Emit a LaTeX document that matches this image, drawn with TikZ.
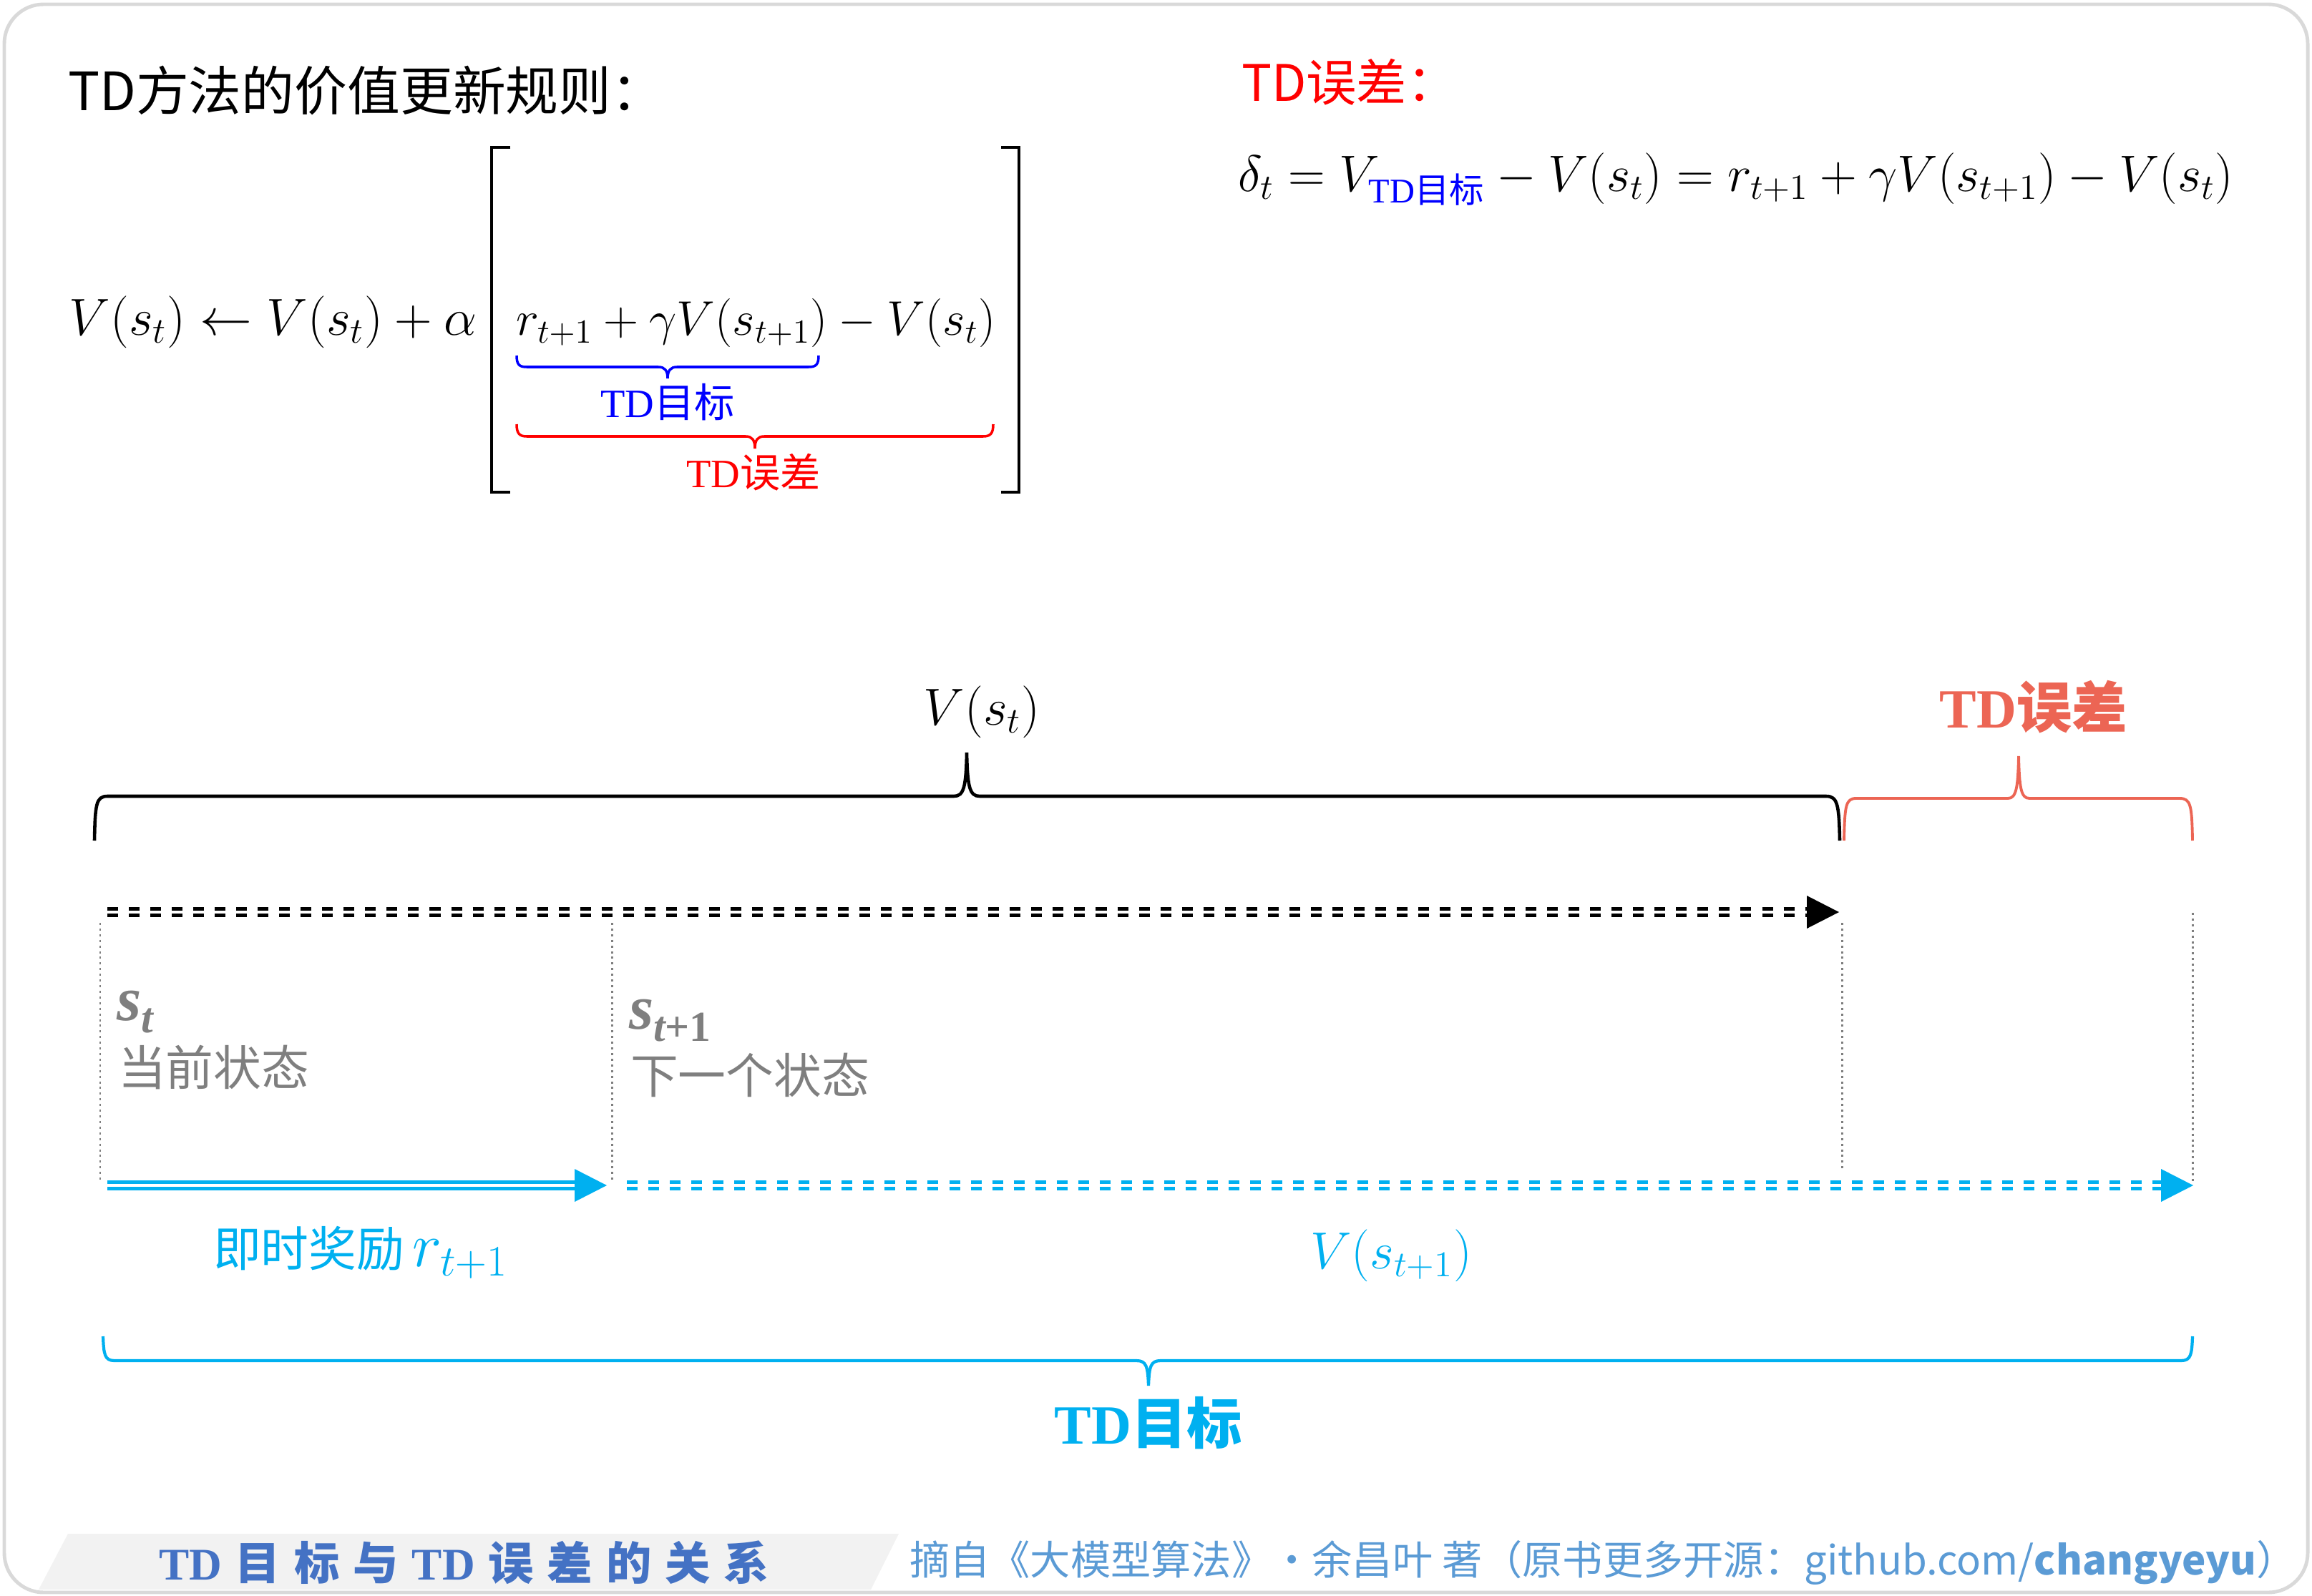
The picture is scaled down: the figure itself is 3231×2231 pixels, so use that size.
\documentclass[tikz,border=0pt]{standalone}
\usepackage{fontspec}
\setmainfont{Liberation Serif}
\newfontfamily\cjk{Noto Sans CJK SC}
\usetikzlibrary{calc}
\definecolor{cyanb}{HTML}{00B0F0}
\definecolor{salmon}{HTML}{EC6554}
\definecolor{grayt}{HTML}{7F7F7F}
\definecolor{footA}{HTML}{4472C4}
\definecolor{footB}{HTML}{5B9BD5}
\definecolor{footbg}{HTML}{F2F2F2}
\definecolor{framec}{HTML}{D9D9D9}
\newcommand\fsp{\hspace{0.3em}}
\begin{document}
\begin{tikzpicture}[x=0.01cm,y=-0.01cm,
  every node/.style={inner sep=0pt,outer sep=0pt},
  graydot/.style={draw=grayt,line width=0.85pt,dash pattern=on 0.85pt off 1.4pt},
  dbl/.style={line width=1.28pt},
  dsh/.style={line width=1.28pt,dash pattern=on 4.27pt off 4.27pt},
  brc/.style={line width=1.3pt},
  cjklbl/.style={text height=0.8em,text depth=0.08em},
  fsz/.style={font=\fontsize{#1}{#1}\selectfont}]
\useasboundingbox (0,0) rectangle (3231,2231);
% frame
\draw[framec,line width=1.4pt,rounded corners=0.55cm] (6,6) rectangle (3225,2226);

% ---------- top-left: update rule ----------
\node[anchor=west,fsz=21] (title) at (95,127) {\cjk TD方法的价值更新规则：};
\node[anchor=base west,fsz=22] (fleft) at (97,469) {$V(s_t)\leftarrow V(s_t)+\alpha$};
\node[anchor=base west,fsz=22] (fin) at (721,469) {\resizebox{6.70cm}{!}{$r_{t+1}+\gamma V(s_{t+1})-V(s_t)$}};
\coordinate (brL1) at (713,206); \coordinate (brL2) at (687,206);
\coordinate (brL3) at (687,688); \coordinate (brL4) at (713,688);
\coordinate (brR1) at (1399,206); \coordinate (brR2) at (1424,206);
\coordinate (brR3) at (1424,688); \coordinate (brR4) at (1399,688);
\draw[line width=1.4pt] (brL1) -- (brL2) -- (brL3) -- (brL4);
\draw[line width=1.4pt] (brR1) -- (brR2) -- (brR3) -- (brR4);
% blue brace
\draw[blue,line width=1pt] (722,497) .. controls (722,510) and (726,513) .. (736,513) -- (920,513)
  .. controls (929,513) and (933,518) .. (933,529) .. controls (933,518) and (937,513) .. (946,513)
  -- (1130,513) .. controls (1140,513) and (1144,510) .. (1144,497);
\node[text=blue,fsz=16] (tdt1) at (933,562) {TD{\cjk 目标}};
% red brace
\draw[red,line width=1pt] (722,593) .. controls (722,606) and (726,610) .. (736,610) -- (1042,610)
  .. controls (1051,610) and (1055,615) .. (1055,627) .. controls (1055,615) and (1059,610) .. (1068,610)
  -- (1374,610) .. controls (1384,610) and (1388,606) .. (1388,593);
\node[text=red,fsz=16] (tde1) at (1053,660) {TD{\cjk 误差}};

% ---------- top-right: TD error ----------
\node[anchor=west,text=red,fsz=20] (errt) at (1735,115) {\cjk TD误差：};
\node[anchor=base west,fsz=22] (ferr) at (1730,268)
  {\resizebox{13.9cm}{!}{$\delta_t = V_{\mbox{\fontsize{14}{14}\selectfont\color{blue}TD{\cjk 目标}}} - V(s_t) = r_{t+1}+\gamma V(s_{t+1}) - V(s_t)$}};

% ---------- middle diagram ----------
\node[fsz=22] (vst) at (1372,995) {$V(s_t)$};
\node[text=salmon,fsz=22] (tderr) at (2842,988) {\bfseries TD{\cjk 误差}};
% black brace
\draw[brc] (132,1175) .. controls (133,1125) and (134,1113) .. (150,1113) -- (1333,1113)
  .. controls (1347,1113) and (1350,1100) .. (1351,1052) .. controls (1352,1100) and (1355,1113) .. (1369,1113)
  -- (2552,1113) .. controls (2568,1113) and (2570,1125) .. (2571,1175);
% salmon brace
\draw[salmon,line width=1.1pt] (2577,1175) .. controls (2578,1127) and (2579,1116) .. (2594,1116) -- (2806,1116)
  .. controls (2818,1116) and (2820,1100) .. (2821,1057) .. controls (2822,1100) and (2824,1116) .. (2836,1116)
  -- (3046,1116) .. controls (3062,1116) and (3063,1127) .. (3064,1175);

% vertical dotted separators
\coordinate (v1a) at (140,1290); \coordinate (v1b) at (140,1652);
\coordinate (v2a) at (855,1290); \coordinate (v2b) at (855,1652);
\coordinate (v3a) at (2574,1290); \coordinate (v3b) at (2574,1634);
\coordinate (v4a) at (3064,1276); \coordinate (v4b) at (3064,1652);
\draw[graydot] (v1a) -- (v1b);
\draw[graydot] (v2a) -- (v2b);
\draw[graydot] (v3a) -- (v3b);
\draw[graydot] (v4a) -- (v4b);

% black double dashed arrow
\coordinate (kA) at (150,1275); \coordinate (kB) at (2528,1275); \coordinate (kT) at (2570,1275);
\draw[dsh] ($(kA)+(0,-4.5)$) -- ($(kB)+(0,-4.5)$);
\draw[dsh] ($(kA)+(0,4.5)$) -- ($(kB)+(0,4.5)$);
\fill (kT) -- ($(kT)+(-45,-23)$) -- ($(kT)+(-45,23)$) -- cycle;

% blue double solid arrow
\coordinate (cA) at (150,1657); \coordinate (cB) at (806,1657); \coordinate (cT) at (848,1657);
\draw[dbl,cyanb] ($(cA)+(0,-4.5)$) -- ($(cB)+(0,-4.5)$);
\draw[dbl,cyanb] ($(cA)+(0,4.5)$) -- ($(cB)+(0,4.5)$);
\fill[cyanb] (cT) -- ($(cT)+(-45,-23)$) -- ($(cT)+(-45,23)$) -- cycle;

% blue double dashed arrow
\coordinate (dA) at (876,1657); \coordinate (dB) at (3023,1657); \coordinate (dT) at (3065,1657);
\draw[dsh,cyanb] ($(dA)+(0,-4.5)$) -- ($(dB)+(0,-4.5)$);
\draw[dsh,cyanb] ($(dA)+(0,4.5)$) -- ($(dB)+(0,4.5)$);
\fill[cyanb] (dT) -- ($(dT)+(-45,-23)$) -- ($(dT)+(-45,23)$) -- cycle;

% state labels
\node[anchor=base west,text=grayt,fsz=25] (st) at (163,1426)
  {\bfseries\itshape s\raisebox{-0.2em}{\fontsize{17}{17}\selectfont t}};
\node[anchor=base west,text=grayt,fsz=19,cjklbl] (stl) at (165,1517) {\cjk 当前状态};
\node[anchor=base west,text=grayt,fsz=25] (st1) at (879,1438)
  {\bfseries\itshape s\raisebox{-0.2em}{\fontsize{17}{17}\selectfont t\upshape+1}};
\node[anchor=base west,text=grayt,fsz=19,cjklbl] (st1l) at (881,1528) {\cjk 下一个状态};

% reward and next value
\node[anchor=base west,text=cyanb,fsz=19] (rew) at (298,1770) {{\cjk 即时奖励}\,{\fontsize{26}{26}\selectfont$r_{t+1}$}};
\node[text=cyanb,fsz=22.5] (vst1) at (1944,1755) {$V(s_{t+1})$};

% cyan brace
\draw[cyanb,line width=1.2pt] (144,1868) .. controls (145,1893) and (146,1902) .. (160,1902) -- (1588,1902)
  .. controls (1602,1902) and (1604,1910) .. (1605,1937) .. controls (1606,1910) and (1608,1902) .. (1622,1902)
  -- (3048,1902) .. controls (3062,1902) and (3063,1893) .. (3064,1868);
\node[text=cyanb,fsz=22] (tdtar) at (1605,1989) {\bfseries TD{\cjk 目标}};

% ---------- footer ----------
\fill[footbg] (95,2144) -- (1256,2144) -- (1217,2222) -- (54,2222) -- cycle;
\node[anchor=west,text=footA,fsz=18] (ftitle) at (222,2184)
  {\bfseries TD\fsp{\cjk 目}\fsp{\cjk 标}\fsp{\cjk 与}\fsp TD\fsp{\cjk 误}\fsp{\cjk 差}\fsp{\cjk 的}\fsp{\cjk 关}\fsp{\cjk 系}};
\node[anchor=west,text=footB,fsz=16] (fsrc) at (1271,2184)
  {\cjk 摘自《大模型算法》·余昌叶 著（原书更多开源：github.com/{\bfseries changyeyu}）};
\end{tikzpicture}
\end{document}
